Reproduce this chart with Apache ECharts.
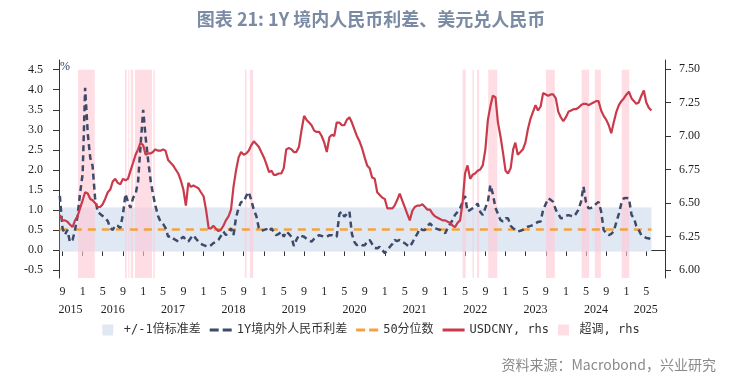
<!DOCTYPE html>
<html>
<head>
<meta charset="utf-8">
<script src="https://cdn.jsdelivr.net/npm/echarts@6/dist/echarts.min.js"></script>
<style>html,body{margin:0;padding:0;background:#fff}#c{width:742px;height:384px}</style>
</head>
<body>
<div id="c"></div>
<script>
// USDCNY (rhs), semi-monthly samples from 2015-08-16 to 2025-06-01
const usdcny = [
 6.41,6.37,6.37,6.36,6.34,6.32,6.37,6.40,6.46,
 6.52,6.58,6.57,6.53,6.52,6.50,6.47,6.47,6.49,6.53,6.58,6.60,6.66,6.68,6.65,6.64,6.68,6.67,6.68,6.74,6.80,6.86,6.90,6.95,
 6.93,6.86,6.87,6.87,6.88,6.90,6.89,6.89,6.90,6.89,6.82,6.80,6.78,6.75,6.72,6.67,6.60,6.48,6.65,6.62,6.63,6.62,6.61,6.58,
 6.55,6.45,6.31,6.31,6.33,6.31,6.29,6.30,6.33,6.37,6.40,6.45,6.62,6.74,6.84,6.88,6.86,6.87,6.89,6.93,6.96,6.94,6.92,6.88,
 6.84,6.79,6.73,6.74,6.71,6.71,6.72,6.72,6.76,6.90,6.91,6.90,6.88,6.88,6.92,7.04,7.15,7.12,7.10,7.08,7.04,7.03,7.03,7.00,
 6.95,6.88,6.99,7.01,7.00,7.10,7.10,7.08,7.08,7.12,7.14,7.10,7.05,7.00,6.96,6.91,6.84,6.78,6.76,6.69,6.68,6.58,6.56,6.54,
 6.53,6.46,6.46,6.46,6.48,6.52,6.57,6.52,6.47,6.42,6.37,6.44,6.47,6.48,6.48,6.49,6.47,6.45,6.45,6.42,6.40,6.39,6.38,6.37,
 6.37,6.36,6.35,6.33,6.32,6.35,6.37,6.50,6.72,6.78,6.68,6.71,6.72,6.74,6.75,6.78,6.90,7.12,7.22,7.30,7.29,7.10,7.00,6.88,
 6.74,6.72,6.76,6.90,6.95,6.86,6.88,6.90,6.95,7.05,7.13,7.18,7.23,7.19,7.22,7.32,7.31,7.30,7.31,7.31,7.28,7.18,7.14,7.11,
 7.14,7.18,7.19,7.20,7.20,7.21,7.23,7.24,7.24,7.23,7.24,7.25,7.26,7.26,7.19,7.15,7.12,7.08,7.02,7.10,7.18,7.23,7.26,7.28,
 7.31,7.33,7.28,7.26,7.24,7.25,7.30,7.34,7.25,7.21,7.19
];
// 1Y onshore-offshore CNY spread (%), same sample dates
const spread = [
 1.35,0.55,0.38,0.50,0.20,0.25,0.50,0.85,1.40,
 1.90,4.05,2.90,2.30,2.10,1.30,0.95,0.90,0.85,0.80,0.72,0.55,0.50,0.62,0.60,0.55,0.90,1.40,1.20,1.05,1.30,1.40,1.70,2.60,
 3.50,2.80,2.20,1.70,1.40,1.10,0.85,0.70,0.65,0.55,0.33,0.35,0.29,0.25,0.21,0.28,0.33,0.25,0.21,0.30,0.37,0.28,0.21,0.15,
 0.12,0.10,0.08,0.12,0.17,0.20,0.25,0.35,0.46,0.37,0.45,0.54,0.37,0.80,1.05,1.20,1.20,1.35,1.45,1.25,1.00,0.85,0.55,0.48,
 0.50,0.52,0.46,0.54,0.45,0.37,0.40,0.46,0.33,0.46,0.40,0.33,0.10,0.25,0.37,0.35,0.33,0.28,0.24,0.21,0.28,0.33,0.37,0.35,
 0.33,0.33,0.37,0.37,0.35,0.33,0.90,0.96,0.83,0.90,0.96,0.40,0.20,0.12,0.15,0.12,0.12,0.20,0.25,0.15,0.05,0.04,0.08,0.00,
 -0.08,0.00,0.08,0.15,0.25,0.22,0.25,0.20,0.17,0.12,0.08,0.18,0.30,0.40,0.54,0.50,0.50,0.60,0.66,0.60,0.54,0.52,0.50,0.45,
 0.42,0.55,0.66,0.75,0.87,0.95,1.04,1.20,1.35,0.96,1.00,1.04,1.08,1.16,0.95,0.87,1.05,1.20,1.62,1.40,1.05,0.90,0.75,0.71,
 0.79,0.79,0.60,0.54,0.50,0.46,0.48,0.50,0.55,0.58,0.60,0.62,0.66,0.70,0.71,1.00,1.15,1.29,1.25,1.20,1.00,0.90,0.79,0.80,
 0.85,0.87,0.85,0.83,0.90,1.00,1.20,1.58,1.20,1.04,1.05,1.08,1.15,1.20,0.96,0.50,0.42,0.37,0.40,0.46,0.70,0.90,1.16,1.29,
 1.30,1.29,0.87,0.79,0.60,0.50,0.37,0.33,0.30,0.29,0.25
];
const bandLow = -0.04, bandHigh = 1.06;   // +/-1 std band
const medianValue = 0.51;                  // 50th percentile
const overshoot = [
 ['2015-12-04','2016-03-14'],['2016-09-13','2016-09-23'],['2016-10-03','2016-10-09'],
 ['2016-10-18','2016-11-01'],['2016-11-12','2017-02-23'],['2017-03-03','2017-03-12'],
 ['2018-09-08','2018-09-18'],['2018-10-08','2018-10-28'],['2022-04-16','2022-05-05'],
 ['2022-06-15','2022-06-23'],['2022-07-13','2022-07-25'],['2022-09-18','2022-11-12'],
 ['2023-09-02','2023-10-26'],['2024-04-05','2024-05-20'],['2024-06-24','2024-07-30'],
 ['2024-12-03','2025-01-18']
];
const monthTicks = ['2015-09-01',
 '2016-01-01','2016-05-01','2016-09-01','2017-01-01','2017-05-01','2017-09-01',
 '2018-01-01','2018-05-01','2018-09-01','2019-01-01','2019-05-01','2019-09-01',
 '2020-01-01','2020-05-01','2020-09-01','2021-01-01','2021-05-01','2021-09-01',
 '2022-01-01','2022-05-01','2022-09-01','2023-01-01','2023-05-01','2023-09-01',
 '2024-01-01','2024-05-01','2024-09-01','2025-01-01','2025-05-01'];
const yearLabelPos = ['2015-10-20','2016-07-01','2017-07-01','2018-07-01','2019-07-01','2020-07-01',
 '2021-07-01','2022-07-01','2023-07-01','2024-07-01','2025-04-27'];
const leftTicks = [-0.5,0,0.5,1,1.5,2,2.5,3,3.5,4,4.5];
const rightTicks = [6,6.25,6.5,6.75,7,7.25,7.5];
const axisStart = '2015-08-11', axisEnd = '2025-08-22';

function ts(s){ const p = s.split('-').map(Number); return new Date(p[0], p[1]-1, p[2]).getTime(); }
// semi-monthly sample dates (1st and 16th)
const dates = ['2015-08-16'];
for (let k = 1; k < usdcny.length; k++) {
  const m = 8 + Math.floor((k - 1) / 2);
  const y = 2015 + Math.floor(m / 12), mo = m % 12 + 1;
  dates.push(y + '-' + String(mo).padStart(2, '0') + '-' + (k % 2 ? '01' : '16'));
}
const t = dates.map(ts);
const t0 = t[0], t1 = t[t.length - 1];

const labelFont = {color:'#1e1e1e', fontFamily:'Liberation Serif', fontSize:12};
const sq = 'path://M0,0L10,0L10,10L0,10Z';
const dashIcon = 'path://M0,0H9V3H0ZM13,0H22V3H13Z';
const solidIcon = 'path://M0,0H22V3H0Z';
const cBand = '#e0e8f4', cPink = 'rgba(255,200,212,0.62)', cSpread = '#3d4a6a', cMed = '#f5a23c', cUsd = '#c93a4b';

const chart = echarts.init(document.getElementById('c'), null, {renderer:'canvas'});
chart.setOption({
  animation:false,
  title:{text:'图表 21: 1Y 境内人民币利差、美元兑人民币', left:'center', top:5,
    textStyle:{fontSize:18, fontWeight:'bold', color:'#7b8ba4', fontFamily:'Noto Sans CJK SC'}},
  grid:{left:59, right:77, top:60, bottom:106},
  legend:{top:319, left:'center', itemWidth:22, itemHeight:11, itemGap:9,
    textStyle:{fontSize:12, color:'#333', fontFamily:'DejaVu Sans Mono, Noto Sans CJK SC'},
    data:[
      {name:'+/-1倍标准差', icon:sq, itemStyle:{color:cBand, borderWidth:0}},
      {name:'1Y境内外人民币利差', icon:dashIcon, itemStyle:{color:cSpread, borderWidth:0}},
      {name:'50分位数', icon:dashIcon, itemStyle:{color:cMed, borderWidth:0}},
      {name:'USDCNY, rhs', icon:solidIcon, itemStyle:{color:cUsd, borderWidth:0}},
      {name:'超调, rhs', icon:sq, itemStyle:{color:'#ffdde4', borderWidth:0}}
    ]},
  graphic:[
    {type:'text', left:60, top:61, style:{text:'%', fill:'#2b3a67', font:'12px "Liberation Serif"'}},
    {type:'text', right:26, top:358, style:{text:'资料来源：Macrobond，兴业研究', fill:'#8a8a8a', font:'14px "Noto Sans CJK SC"'}}
  ],
  xAxis:[
    {type:'value', min:ts(axisStart), max:ts(axisEnd), position:'bottom',
     axisLine:{show:true, lineStyle:{color:'#333', width:1}},
     axisTick:{show:true, length:6, lineStyle:{color:'#333'}, customValues:monthTicks.map(ts)},
     axisLabel:Object.assign({margin:8, customValues:monthTicks.map(ts),
       formatter:v => String(new Date(v).getMonth() + 1)}, labelFont),
     splitLine:{show:false}},
    {type:'value', min:ts(axisStart), max:ts(axisEnd), position:'bottom',
     axisLine:{show:false}, axisTick:{show:false},
     axisLabel:Object.assign({margin:26, customValues:yearLabelPos.map(ts),
       formatter:v => String(new Date(v).getFullYear())}, labelFont),
     splitLine:{show:false}}
  ],
  yAxis:[
    {type:'value', min:-0.7, max:4.742, position:'left',
     axisLine:{show:true, lineStyle:{color:'#333'}},
     axisTick:{show:true, length:6, lineStyle:{color:'#333'}, customValues:leftTicks},
     axisLabel:Object.assign({margin:16, customValues:leftTicks, formatter:v => v.toFixed(1)}, labelFont),
     splitLine:{show:false}},
    {type:'value', min:5.94, max:7.567, position:'right',
     axisLine:{show:true, lineStyle:{color:'#333'}},
     axisTick:{show:true, length:6, lineStyle:{color:'#333'}, customValues:rightTicks},
     axisLabel:Object.assign({margin:14, customValues:rightTicks, formatter:v => v.toFixed(2)}, labelFont),
     splitLine:{show:false}}
  ],
  series:[
    {name:'+/-1倍标准差', type:'line', z:1, symbol:'none', silent:true,
     data:[[t0, bandHigh],[t1, bandHigh]],
     lineStyle:{opacity:0, color:cBand}, itemStyle:{color:cBand},
     markArea:{silent:true, itemStyle:{color:cBand, opacity:1, borderWidth:0}, label:{show:false},
       data:[[{xAxis:t0, yAxis:bandLow},{xAxis:t1, yAxis:bandHigh}]]}},
    {name:'超调, rhs', type:'line', z:2, symbol:'none', silent:true,
     data:[[t0, null]],
     lineStyle:{opacity:0, color:'#ffdde4'}, itemStyle:{color:'#ffdde4'},
     markArea:{silent:true, itemStyle:{color:cPink, borderWidth:0}, label:{show:false},
       data:overshoot.map(p => [{xAxis:ts(p[0]), yAxis:4.5},{xAxis:ts(p[1]), yAxis:-0.7}])}},
    {name:'50分位数', type:'line', z:3, symbol:'none', silent:true,
     data:[[t0, medianValue],[t1, medianValue]],
     lineStyle:{color:cMed, width:2.5, type:[8,6]}, itemStyle:{color:cMed}},
    {name:'1Y境内外人民币利差', type:'line', z:4, symbol:'none', silent:true,
     data:t.map((x,i) => [x, spread[i]]),
     lineStyle:{color:cSpread, width:2.5, type:[6,4]}, itemStyle:{color:cSpread}},
    {name:'USDCNY, rhs', type:'line', z:5, yAxisIndex:1, symbol:'none', silent:true,
     data:t.map((x,i) => [x, usdcny[i]]),
     lineStyle:{color:cUsd, width:2.2}, itemStyle:{color:cUsd}}
  ]
});
</script>
</body>
</html>
